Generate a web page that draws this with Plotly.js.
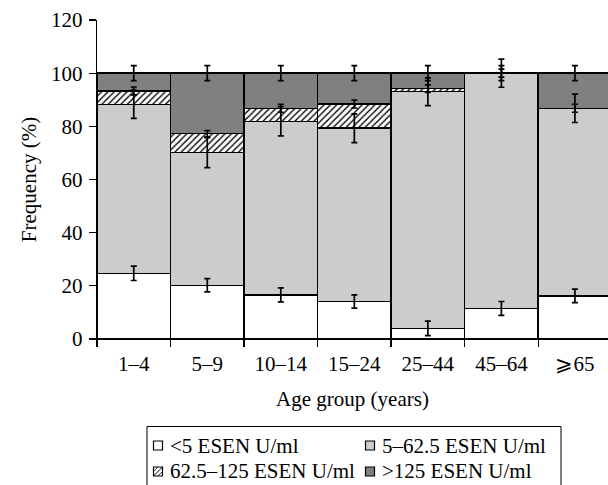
<!DOCTYPE html>
<html>
<head>
<meta charset="utf-8">
<script src="https://cdn.plot.ly/plotly-3.0.1.min.js"></script>
<style>html,body{margin:0;padding:0;background:#fff;overflow:hidden;}</style>
</head>
<body>
<div id="chart" style="width:608px;height:485px;"></div>
<script>
var ageGroups = ["1–4", "5–9", "10–14", "15–24", "25–44", "45–64", "⩾65"];
var seriesNames = ["<5 ESEN U/ml", "5–62.5 ESEN U/ml", "62.5–125 ESEN U/ml", ">125 ESEN U/ml"];
var lowVals   = [24.7, 20.2, 16.6, 14.1, 4.0, 11.5, 16.2];
var midVals   = [63.6, 49.9, 65.3, 65.2, 89.0, 88.5, 70.6];
var hatchVals = [5.0, 7.1, 4.9, 9.1, 1.2, 0, 0];
var highVals  = [6.7, 22.8, 13.2, 11.6, 5.8, 0, 13.2];
var lowErr    = [2.7, 2.5, 2.6, 2.5, 2.7, 2.6, 2.55];
var midErr    = [5.3, 5.6, 5.5, 5.4, 5.2, 5.3, 5.35];
var hatchErr  = [1.5, 1.2, 1.5, 1.5, 1.4, 1.5, 1.5];
var highErr   = [2.8, 2.8, 2.8, 2.8, 2.8, 2.8, 2.8];
var seriesColors = ["#ffffff", "#cccccc", "#ffffff", "#808080"];

var FONT = "'Liberation Serif', 'Times New Roman', serif";
var FS = 21;
var lineStyle = {color: "#000", width: 1.4};

var seriesVals = [lowVals, midVals, hatchVals, highVals];
var seriesErrs = [lowErr, midErr, hatchErr, highErr];

var traces = [];
// stacked bars
seriesVals.forEach(function (vals, i) {
  var marker = {color: seriesColors[i], line: lineStyle};
  if (i === 2) {
    marker.pattern = {shape: "/", fgcolor: "#000", bgcolor: "#ffffff", size: 4.5, solidity: 0.3};
  }
  traces.push({type: "bar", name: seriesNames[i], x: ageGroups, y: vals,
               marker: marker, hoverinfo: "none", showlegend: false});
});
// error bars at the top of each stacked segment (drawn above all bars)
var cum = ageGroups.map(function () { return 0; });
seriesVals.forEach(function (vals, i) {
  cum = cum.map(function (c, k) { return c + vals[k]; });
  traces.push({type: "scatter", mode: "markers", x: ageGroups, y: cum.slice(),
               marker: {size: 1, color: "rgba(0,0,0,0)"}, showlegend: false, hoverinfo: "none",
               error_y: {type: "data", array: seriesErrs[i], visible: true, color: "#000",
                         thickness: 1.7, width: 3}});
});

// manual legend (pixel positions converted to paper coordinates)
var L = 97, R = 608, T = 20, B = 339;
function px(x) { return (x - L) / (R - L); }
function py(y) { return (B - y) / (B - T); }
var shapes = [{type: "rect", xref: "paper", yref: "paper",
               x0: px(147), x1: px(561), y0: py(426.5), y1: py(492),
               line: {color: "#000", width: 1}, fillcolor: "#fff", layer: "above"}];
var annotations = [];
var legPos = [[158, 445.5], [370, 445.5], [158, 471.5], [370, 471.5]];
legPos.forEach(function (p, i) {
  var h = 4.5;
  shapes.push({type: "rect", xref: "paper", yref: "paper",
               x0: px(p[0] - h), x1: px(p[0] + h), y0: py(p[1] + h), y1: py(p[1] - h),
               line: {color: "#000", width: 1.2}, fillcolor: seriesColors[i], layer: "above"});
  if (i === 2) {
    shapes.push({type: "line", xref: "paper", yref: "paper",
                 x0: px(p[0] - h), x1: px(p[0] + h), y0: py(p[1] + h), y1: py(p[1] - h),
                 line: {color: "#000", width: 1}, layer: "above"});
    shapes.push({type: "line", xref: "paper", yref: "paper",
                 x0: px(p[0] - h), x1: px(p[0]), y0: py(p[1]), y1: py(p[1] - h),
                 line: {color: "#000", width: 0.8}, layer: "above"});
    shapes.push({type: "line", xref: "paper", yref: "paper",
                 x0: px(p[0]), x1: px(p[0] + h), y0: py(p[1] + h), y1: py(p[1]),
                 line: {color: "#000", width: 0.8}, layer: "above"});
  }
  annotations.push({xref: "paper", yref: "paper", x: px(p[0] + 10), y: py(p[1]),
                    xanchor: "left", yanchor: "middle", showarrow: false,
                    text: seriesNames[i].replace("<", "&lt;").replace(">", "&gt;"),
                    font: {family: FONT, size: FS, color: "#000"}});
});

var layout = {
  width: 608, height: 485,
  margin: {l: L, r: 0, t: T, b: 485 - B, pad: 0, autoexpand: false},
  barmode: "stack", bargap: 0,
  paper_bgcolor: "#fff", plot_bgcolor: "#fff",
  font: {family: FONT, size: FS, color: "#000"},
  showlegend: false,
  xaxis: {
    type: "category", range: [-0.5, 6.45], automargin: false,
    tickson: "boundaries", ticks: "outside", ticklen: 7, tickwidth: 1.3, tickcolor: "#000",
    ticklabelstandoff: 5,
    showline: true, linecolor: "#000", linewidth: 1.3, showgrid: false, zeroline: false,
    tickfont: {family: FONT, size: FS},
    title: {text: "Age group (years)", font: {family: FONT, size: FS}, standoff: 16}
  },
  yaxis: {
    range: [0, 120], dtick: 20, tick0: 0, automargin: false,
    ticks: "outside", ticklen: 7, tickwidth: 1.3, tickcolor: "#000",
    ticklabelstandoff: 2,
    showline: true, linecolor: "#000", linewidth: 1.3, showgrid: false, zeroline: false,
    tickfont: {family: FONT, size: FS},
    title: {text: "Frequency (%)", font: {family: FONT, size: FS}, standoff: 8}
  },
  shapes: shapes,
  annotations: annotations
};
Plotly.newPlot("chart", traces, layout, {displayModeBar: false, staticPlot: true});
</script>
</body>
</html>
